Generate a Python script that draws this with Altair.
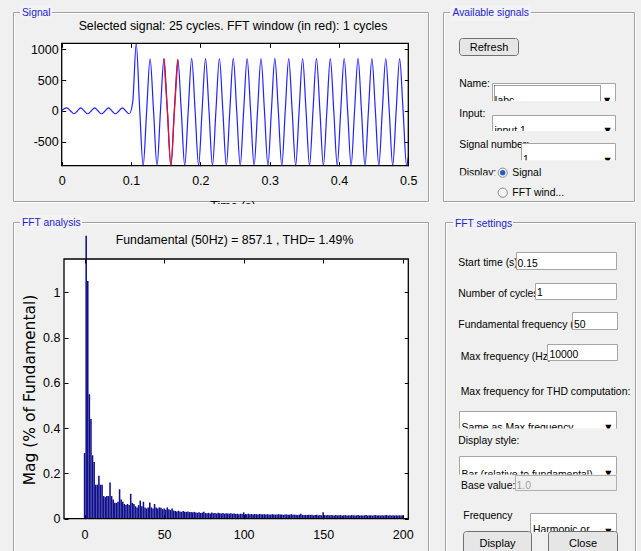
import altair as alt
import pandas as pd

SANS = "Liberation Sans, Arial, sans-serif"
WIDE = "DejaVu Sans, Verdana, sans-serif"
BG = "#f0f0f0"
W, H = 641, 551

# ---------------- chart values ----------------
# signal: key samples (peaks / zero crossings / troughs) every quarter period
signal_t = [0.0] + [round(0.0025 + 0.005 * k, 4) for k in range(100)] + [0.5]
signal_v = [10,
            30, 50, 5, -45, 0, 50, 0, -45, 0, 50,
            0, -45, 0, 50, 0, -45, 0, 50, 0, -45,
            150, 1110, 30, -890,
            -10, 845, 0, -890,
            5, 850, -5, -890,
            0, 835, 5, -890,
            0, 855, -5, -890,
            0, 850, 0, -890,
            5, 852, 0, -890,
            0, 855, -5, -890,
            0, 850, 5, -890,
            -5, 852, 0, -890,
            0, 855, 0, -890,
            5, 850, -5, -890,
            0, 852, 0, -890,
            0, 855, 5, -890,
            -5, 850, 0, -890,
            0, 852, 0, -890,
            5, 855, -5, -890,
            0, 850, 0, -890,
            0, 852, 5, -890,
            0, 850, 0, -890,
            -750]
fft_window = [0.1475, 0.1675]          # red part of the signal
signal_x_ticks = [0, 0.1, 0.2, 0.3, 0.4, 0.5]
signal_y_ticks = [-500, 0, 500, 1000]

harmonic_order = list(range(201))
fft_mag = [
    0.29, 1.25, 1.05, 0.55, 0.44, 0.28, 0.25, 0.15, 0.15, 0.19,
    0.15, 0.15, 0.10, 0.095, 0.10, 0.10, 0.16, 0.10, 0.085, 0.07,
    0.07, 0.075, 0.13, 0.085, 0.075, 0.065, 0.06, 0.065, 0.06, 0.11,
    0.07, 0.065, 0.055, 0.05, 0.06, 0.08, 0.055, 0.075, 0.05, 0.045,
    0.05, 0.072, 0.05, 0.045, 0.065, 0.05, 0.045, 0.05, 0.048, 0.042,
    0.045, 0.04, 0.05, 0.042, 0.038, 0.045, 0.036, 0.034, 0.032, 0.035,
    0.032, 0.03, 0.034, 0.031, 0.03, 0.032, 0.029, 0.03, 0.028, 0.03,
    0.027, 0.026, 0.028, 0.025, 0.027, 0.031, 0.025, 0.024, 0.026, 0.023,
    0.027, 0.024, 0.025, 0.023, 0.026, 0.024, 0.023, 0.025, 0.022, 0.024,
    0.023, 0.022, 0.024, 0.022, 0.023, 0.021, 0.022, 0.02, 0.022, 0.021,
    0.028, 0.021, 0.02, 0.022, 0.02, 0.021, 0.019, 0.021, 0.02, 0.019,
    0.021, 0.02, 0.019, 0.02, 0.018, 0.02, 0.019, 0.018, 0.02, 0.019,
    0.018, 0.019, 0.02, 0.018, 0.019, 0.017, 0.018, 0.019, 0.017, 0.018,
    0.02, 0.017, 0.018, 0.017, 0.016, 0.018, 0.022, 0.017, 0.016, 0.017,
    0.016, 0.017, 0.016, 0.017, 0.015, 0.016, 0.017, 0.015, 0.016, 0.015,
    0.028, 0.016, 0.015, 0.016, 0.015, 0.016, 0.015, 0.014, 0.016, 0.015,
    0.015, 0.016, 0.014, 0.015, 0.016, 0.014, 0.015, 0.014, 0.016, 0.015,
    0.014, 0.015, 0.016, 0.014, 0.015, 0.014, 0.015, 0.016, 0.014, 0.015,
    0.015, 0.014, 0.015, 0.016, 0.014, 0.015, 0.014, 0.015, 0.014, 0.015,
    0.016, 0.014, 0.015, 0.014, 0.015, 0.014, 0.015, 0.014, 0.015, 0.014,
    0.015]
fft_x_ticks = [0, 50, 100, 150, 200]
fft_y_ticks = [0, 0.2, 0.4, 0.6, 0.8, 1]

signal_title = "Selected signal: 25 cycles. FFT window (in red): 1 cycles"
fft_title = "Fundamental (50Hz) = 857.1 , THD= 1.49%"

# ---------------- layout (pixels) ----------------
SIG = dict(l=61.7, r=408.3, t=43.3, b=165.7)
FFT = dict(l=64.0, r=408.3, t=259.0, b=518.7)
LBL = 10.4   # GUI label font size


def ax(orient, offset, values, labels=True, pad=4.0):
    kw = dict(orient=orient, offset=offset, values=values, title=None,
              grid=False, domain=False, zindex=1)
    if labels:
        kw.update(labels=True, ticks=False, tickSize=0, labelPadding=pad,
                  labelFont=SANS, labelFontSize=12.5, labelColor="black",
                  labelExpr="'' + datum.value", labelFlush=False,
                  labelOverlap=False, labelBound=False)
    else:
        kw.update(labels=False, ticks=True, tickSize=4, tickColor="black",
                  tickWidth=1)
    return alt.Axis(**kw)


def rects(rows, **kw):
    df = pd.DataFrame(rows, columns=["x0", "y0", "x1", "y1", "fill", "stroke"])
    return alt.Chart(df).mark_rect(**kw).encode(
        x=alt.X("x0:Q", scale=None, axis=None), x2="x1:Q",
        y=alt.Y("y0:Q", scale=None, axis=None), y2="y1:Q",
        fill=alt.Fill("fill:N", scale=None),
        stroke=alt.Stroke("stroke:N", scale=None))


def texts(rows, align="left", baseline="middle", font=SANS, size=LBL, angle=0):
    df = pd.DataFrame(rows, columns=["x", "y", "label", "color"])
    return alt.Chart(df).mark_text(align=align, baseline=baseline, font=font,
                                   fontSize=size, angle=angle).encode(
        x=alt.X("x:Q", scale=None, axis=None),
        y=alt.Y("y:Q", scale=None, axis=None),
        text="label:N",
        color=alt.Color("color:N", scale=None))


def dots(rows, **kw):
    df = pd.DataFrame(rows, columns=["x", "y"])
    return alt.Chart(df).mark_circle(**kw).encode(
        x=alt.X("x:Q", scale=None, axis=None),
        y=alt.Y("y:Q", scale=None, axis=None))


TR = "transparent"
BLUE_T = "#2323c8"

# ---------------- GUI background ----------------
gui_back = alt.layer(
    rects([
        (SIG["l"], SIG["t"], SIG["r"], SIG["b"], "white", TR),
        (FFT["l"], FFT["t"], FFT["r"], FFT["b"], "white", TR),
        (14.5, 13.5, 429.5, 202.5, TR, "white"),
        (13.5, 12.5, 428.5, 201.5, TR, "#a0a0a0"),
        (444.5, 13.5, 635.5, 202.5, TR, "white"),
        (443.5, 12.5, 634.5, 201.5, TR, "#a0a0a0"),
        (14.5, 223.5, 429.5, 571, TR, "white"),
        (13.5, 222.5, 428.5, 570, TR, "#a0a0a0"),
        (446.5, 223.5, 636.5, 571, TR, "white"),
        (445.5, 222.5, 635.5, 570, TR, "#a0a0a0"),
    ], strokeWidth=1),
    rects([
        (20, 5, 52, 20, "#f3f3f6", TR),
        (450, 5, 531, 21, "#f3f3f6", TR),
        (20, 215, 82, 231, "#f3f3f6", TR),
        (453, 216, 513, 231, "#f3f3f6", TR),
    ], strokeWidth=0),
    texts([
        (22, 12.5, "Signal", BLUE_T),
        (452.5, 13, "Available signals", BLUE_T),
        (22, 223, "FFT analysis", BLUE_T),
        (455, 224, "FFT settings", BLUE_T),
    ], size=10.3),
)

# ---------------- signal plot ----------------
sig_df = pd.DataFrame({"t": signal_t, "v": signal_v})
red_df = sig_df[(sig_df["t"] >= fft_window[0]) & (sig_df["t"] <= fft_window[1])]
sx = alt.Scale(domain=[0, 0.5], range=[SIG["l"], SIG["r"]], nice=False, zero=False)
sy = alt.Scale(domain=[-888, 1099], range=[SIG["b"], SIG["t"]], nice=False,
               zero=False, clamp=True)

sig_blue = alt.Chart(sig_df).mark_line(color="#2222ff", strokeWidth=1.2,
                                       interpolate="monotone").encode(
    x=alt.X("t:Q", scale=sx, axis=ax("bottom", SIG["b"] - H, signal_x_ticks, pad=9)),
    y=alt.Y("v:Q", scale=sy, axis=ax("left", -SIG["l"], signal_y_ticks, pad=3.5)))
sig_red = alt.Chart(red_df).mark_line(color="#e8102a", strokeWidth=1.3,
                                      interpolate="monotone").encode(
    x=alt.X("t:Q", scale=sx, axis=ax("top", -SIG["b"], signal_x_ticks, labels=False)),
    y=alt.Y("v:Q", scale=sy, axis=ax("right", SIG["l"] - W, signal_y_ticks, labels=False)))
sig_ticks = alt.Chart(sig_df).mark_point(opacity=0).encode(
    x=alt.X("t:Q", scale=sx, axis=ax("bottom", SIG["t"] - H, signal_x_ticks, labels=False)),
    y=alt.Y("v:Q", scale=sy, axis=ax("left", -SIG["r"], signal_y_ticks, labels=False)))
signal = alt.layer(sig_blue, sig_red, sig_ticks).resolve_axis(x="independent", y="independent")

# ---------------- FFT plot ----------------
fft_df = pd.DataFrame({"h": harmonic_order, "mag": fft_mag})
fx = alt.Scale(domain=[-9.8, 200.4], range=[FFT["l"], FFT["r"]], nice=False, zero=False)
fy = alt.Scale(domain=[0, 1.147], range=[FFT["b"], FFT["t"]], nice=False, zero=False)

fft_bars = alt.Chart(fft_df).mark_bar(size=1.55, color="#0f0f8c", orient="vertical").encode(
    x=alt.X("h:Q", scale=fx, axis=ax("bottom", FFT["b"] - H, fft_x_ticks, pad=10)),
    y=alt.Y("mag:Q", scale=fy, axis=ax("left", -FFT["l"], fft_y_ticks, pad=4)))
fft_t1 = alt.Chart(fft_df).mark_point(opacity=0).encode(
    x=alt.X("h:Q", scale=fx, axis=ax("top", -FFT["b"], fft_x_ticks, labels=False)),
    y=alt.Y("mag:Q", scale=fy, axis=ax("right", FFT["l"] - W, fft_y_ticks, labels=False)))
fft_t2 = alt.Chart(fft_df).mark_point(opacity=0).encode(
    x=alt.X("h:Q", scale=fx, axis=ax("bottom", FFT["t"] - H, fft_x_ticks, labels=False)),
    y=alt.Y("mag:Q", scale=fy, axis=ax("left", -FFT["r"], fft_y_ticks, labels=False)))
fft = alt.layer(fft_bars, fft_t1, fft_t2).resolve_axis(x="independent", y="independent")

# ---------------- GUI foreground ----------------
K = "black"
labels_early = texts([
    (459.3, 83.5, "Name:", K),
    (459.3, 113.5, "Input:", K),
    (459.3, 144.5, "Signal number:", K),
    (458.3, 263, "Start time (s)", K),
    (458.3, 294, "Number of cycles", K),
    (458.3, 325, "Fundamental frequency (Hz):", K),
    (460.7, 357, "Max frequency (Hz):", K),
    (460.7, 392, "Max frequency for THD computation:", K),
    (463.3, 516, "Frequency", K),
])
boxes = rects([
    (492.5, 83.5, 615.5, 110, "white", "#a5a5a5"),
    (492.5, 115.5, 615.5, 138, "white", "#a5a5a5"),
    (521.5, 143.5, 615.5, 168, "white", "#a5a5a5"),
    (516.5, 252.5, 616.5, 269.5, "white", "#a5a5a5"),
    (535.5, 283.5, 616.5, 299.5, "white", "#a5a5a5"),
    (572.5, 312.5, 617.5, 329.5, "white", "#a5a5a5"),
    (547.5, 344.5, 617.5, 360.5, "white", "#a5a5a5"),
    (459.5, 411.5, 616.5, 436, "white", "#a5a5a5"),
    (459.5, 456.5, 616.5, 482, "white", "#a5a5a5"),
    (530.5, 513.5, 616.5, 540, "white", "#a5a5a5"),
], strokeWidth=1)
focus = rects([(494.5, 85.5, 600.5, 110, TR, "#404040")], strokeWidth=1, strokeDash=[1, 1])
box_texts = texts([
    (517.5, 263.5, "0.15", K),
    (537, 292.5, "1", K),
    (574, 325, "50", K),
    (549.5, 354.5, "10000", K),
])
cut_texts = texts([
    (459.3, 176, "Display:", K),
    (494.5, 104, "Iabc", K),
    (494.5, 134, "input 1", K),
    (523, 162.5, "1", K),
    (461.5, 431, "Same as Max frequency", K),
    (461.5, 477.5, "Bar (relative to fundamental)", K),
    (533, 533, "Harmonic or", K),
], baseline="alphabetic")
arrows = texts([
    (607, 100.5, "▼", K), (607.5, 131, "▼", K), (607.5, 161, "▼", K),
    (608.3, 428, "▼", K), (608.3, 474, "▼", K), (608.3, 531.5, "▼", K),
], align="center", font=WIDE, size=8)
covers = rects([
    (490, 101, 618, 112, BG, TR),
    (490, 131, 618, 140, BG, TR),
    (519, 160.3, 618, 170, BG, TR),
    (457, 175.3, 500, 182, BG, TR),
    (457, 428.5, 619, 450, BG, TR),
    (457, 474.5, 619, 495, BG, TR),
    (528, 532, 619, 545, BG, TR),
], strokeWidth=0)
late_labels = texts([
    (458.3, 440.5, "Display style:", K),
    (461, 486, "Base value:", K),
    (512.3, 172.5, "Signal", K),
    (512.3, 192.5, "FFT wind...", K),
    (516.5, 485.5, "1.0", "#a0a0a0"),
])
base_box = rects([(515.5, 475.5, 616.5, 490.5, BG, "#b0b0b0")], strokeWidth=1)
buttons = rects([
    (459.5, 38.5, 518.5, 55.5, "#e6e6e6", "#707070"),
    (463.5, 531.5, 531.5, 558, "#e6e6e6", "#707070"),
    (548.5, 531.5, 617.5, 558, "#e6e6e6", "#707070"),
], strokeWidth=1, cornerRadius=3)
button_texts = texts([
    (489, 47.5, "Refresh", K),
    (497.5, 544, "Display", K),
    (583, 544, "Close", K),
], align="center", size=11)
radio_outer = dots([(502.7, 172.7), (502.7, 192.7)], size=85, color="#f4f4f4",
                   stroke="#8a8a8a", strokeWidth=1, opacity=1)
radio_inner = dots([(502.7, 172.7)], size=28, color="#1d5cc8", opacity=1)
frames = rects([
    (SIG["l"], SIG["t"], SIG["r"], SIG["b"], TR, "black"),
    (FFT["l"], FFT["t"], FFT["r"], FFT["b"], TR, "black"),
], strokeWidth=1.3)
titles = texts([
    (233, 25.5, signal_title, K),
    (234.5, 239.5, fft_title, K),
], align="center", size=12.3)
time_title = texts([(233, 199.5, "Time (s)", K)], align="center", baseline="top", size=12.5)
time_cover = rects([(200, 204, 270, 214, BG, TR)], strokeWidth=0)
ytitle = texts([(29.5, 390, "Mag (% of Fundamental)", K)], align="center",
               font=WIDE, size=15.5, angle=270)

gui_front = alt.layer(
    labels_early, boxes, focus, box_texts, cut_texts, arrows, covers,
    base_box, late_labels, buttons, button_texts, radio_outer, radio_inner,
    frames, titles, time_title, time_cover, ytitle,
)

chart = alt.layer(gui_back, signal, fft, gui_front).resolve_scale(
    x="independent", y="independent"
).properties(
    width=W, height=H, padding=0, background=BG,
    autosize=alt.AutoSizeParams(type="none"),
).configure_view(strokeWidth=0)

chart.save("out.html", embed_options={"renderer": "svg", "actions": False})
